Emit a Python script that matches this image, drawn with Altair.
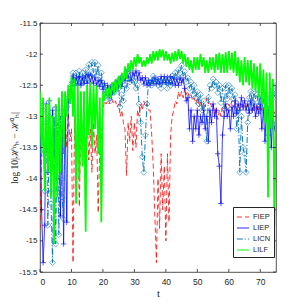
import altair as alt
import pandas as pd

series_names = ["FIEP", "LIEP", "LICN", "LILF"]
series_colors = ["#FF0000", "#0000FF", "#0072BD", "#00FF00"]
x_ticks = [0, 10, 20, 30, 40, 50, 60, 70]
y_ticks = [-11.5, -12, -12.5, -13, -13.5, -14, -14.5, -15, -15.5]
t_step = 0.5

FIEP = [
    -14.8, -13.5, -13.2, -14.0, -13.3, -13.8, -13.4, -14.2, -13.3, -14.0,
    -13.2, -13.9, -13.0, -13.8, -13.1, -13.6, -13.0, -13.5, -12.95, -13.4,
    -13.2, -15.35, -13.0, -14.0, -13.0, -14.45, -13.0, -13.8, -12.95, -13.6,
    -13.0, -13.7, -13.2, -13.9, -13.1, -13.6, -13.3, -14.55, -13.5, -13.4,
    -12.9, -12.75, -12.8, -12.75, -12.8, -12.7, -12.75, -12.8, -12.75, -12.85,
    -12.8, -13.0, -12.9, -13.1, -13.2, -13.95, -13.1, -13.4, -13.0, -13.55,
    -13.1, -13.5, -12.9, -13.0, -12.8, -12.9, -12.75, -12.85, -12.8, -12.9,
    -12.9, -13.3, -13.8, -14.6, -15.35, -14.0, -14.8, -13.6, -14.5, -13.8,
    -15.0, -13.6, -14.7, -13.3, -13.0, -12.9, -12.75, -12.8, -12.6, -12.7,
    -12.6, -12.7, -12.55, -12.65, -12.6, -12.7, -12.65, -12.75, -12.7, -12.8,
    -12.7, -12.85, -12.75, -12.9, -12.8, -12.85, -12.7, -12.8, -12.75, -12.85,
    -12.8, -12.95, -12.85, -13.05, -12.9, -13.0, -12.85, -12.95, -12.8, -12.9,
    -12.8, -12.85, -12.75, -12.85, -12.8, -12.9, -12.8, -12.85, -12.8, -12.9,
    -12.8, -12.85, -12.8, -12.9, -12.85, -12.95, -12.85, -12.9, -12.8, -12.9,
    -12.85, -12.9, -12.85, -12.95, -12.9, -13.0, -12.9, -13.0, -12.85, -12.95,
    -12.9,
]

LIEP = [
    -12.8, -14.5, -15.35, -14.75, -12.8, -13.9, -12.75, -14.2, -12.9, -13.6,
    -12.85, -14.0, -12.9, -14.6, -13.0, -15.05, -12.9, -14.7, -12.75, -12.7,
    -12.45, -12.35, -12.5, -12.38, -12.48, -12.36, -12.5, -12.38, -12.47, -12.35,
    -12.47, -12.33, -12.45, -12.35, -12.47, -12.37, -12.5, -12.42, -12.52, -12.42,
    -12.57, -12.47, -12.62, -12.5, -12.66, -12.52, -12.62, -12.48, -12.57, -12.43,
    -12.52, -12.38, -12.52, -12.4, -12.43, -12.28, -12.38, -12.27, -12.42, -12.3,
    -12.35, -12.27, -12.4, -12.3, -12.42, -12.38, -12.48, -12.38, -12.5, -12.42,
    -12.5, -12.42, -12.47, -12.38, -12.48, -12.4, -12.47, -12.36, -12.46, -12.36,
    -12.46, -12.37, -12.46, -12.36, -12.48, -12.38, -12.5, -12.4, -12.5, -12.38,
    -12.46, -12.4, -12.55, -12.75, -12.7, -13.2, -12.9, -13.4, -13.0, -13.2,
    -12.9, -13.3, -13.0, -13.1, -12.9, -13.2, -13.0, -13.4, -12.9, -13.1,
    -12.8, -13.0, -12.9, -13.6, -13.8, -14.4, -13.3, -13.0, -12.8, -13.0,
    -12.9, -13.2, -12.85, -13.0, -12.75, -12.95, -12.8, -12.9, -12.7, -12.85,
    -12.75, -12.9, -12.8, -12.95, -12.75, -12.9, -12.8, -13.0, -12.85, -12.95,
    -12.8, -13.2, -12.9, -13.4, -12.85, -13.3, -12.9, -13.5, -12.95, -13.2,
    -13.1,
]

LICN = [
    -12.85, -13.6, -12.9, -14.2, -13.1, -14.75, -13.0, -14.4, -15.35, -13.0,
    -15.05, -13.1, -14.9, -13.0, -14.3, -14.65, -12.9, -12.85, -12.7, -12.6,
    -12.5, -12.3, -12.48, -12.3, -12.45, -12.27, -12.47, -12.3, -12.45, -12.25,
    -12.4, -12.17, -12.35, -12.13, -12.3, -12.13, -12.35, -12.18, -12.45, -12.3,
    -12.5, -12.55, -12.62, -12.68, -12.7, -12.75, -12.6, -12.62, -12.55, -12.5,
    -12.55, -12.85, -12.65, -12.75, -12.5, -12.55, -12.4, -12.45, -12.38, -12.42,
    -12.45, -12.55, -12.5, -12.8, -13.1, -13.65, -13.9, -13.3, -12.8, -12.45,
    -12.45, -12.5, -12.35, -12.45, -12.4, -12.5, -12.45, -12.55, -12.4, -12.45,
    -12.45, -12.55, -12.4, -12.5, -12.35, -12.42, -12.3, -12.38, -12.25, -12.3,
    -12.18, -12.35, -12.28, -12.45, -12.38, -12.55, -12.45, -12.65, -12.5, -12.7,
    -12.6, -12.8, -12.65, -12.9, -12.75, -13.1, -13.4, -12.7, -12.5, -12.55,
    -12.4, -12.5, -12.45, -12.62, -12.5, -12.78, -12.55, -12.88, -12.5, -12.72,
    -12.5, -12.65, -12.55, -12.72, -12.65, -13.2, -12.9, -13.9, -13.0, -13.5,
    -13.6, -13.9, -13.1, -12.7, -12.6, -12.78, -12.6, -12.72, -12.65, -12.82,
    -12.65, -12.88, -12.72, -12.95, -12.72, -13.05, -12.65, -12.88, -12.58, -12.68,
    -12.5,
]

LILF = [
    -12.6, -13.6, -12.7, -14.2, -12.8, -13.9, -12.7, -14.3, -13.0, -15.05,
    -12.8, -14.3, -12.7, -13.9, -12.6, -13.5, -12.6, -13.0, -12.5, -12.8,
    -12.35, -13.0, -12.4, -14.4, -12.5, -14.0, -12.6, -13.8, -12.6, -14.85,
    -12.5, -13.3, -12.45, -13.5, -12.5, -13.2, -12.5, -13.6, -12.7, -14.7,
    -12.6, -12.75, -12.55, -12.7, -12.5, -12.7, -12.45, -12.65, -12.4, -12.6,
    -12.35, -12.55, -12.3, -12.45, -12.2, -12.4, -12.15, -12.3, -12.1, -12.25,
    -12.05, -12.2, -12.0, -12.15, -12.05, -12.2, -12.1, -12.2, -12.05, -12.15,
    -12.0, -12.15, -11.95, -12.1, -11.95, -12.1, -11.92, -12.05, -11.93, -12.1,
    -11.95, -12.1, -12.0, -12.15, -11.98, -12.12, -11.95, -12.1, -11.92, -12.08,
    -11.95, -12.15, -12.0, -12.2, -12.05, -12.25, -12.1, -12.3, -12.05, -12.25,
    -12.05, -12.25, -12.0, -12.2, -12.05, -12.3, -12.1, -12.3, -12.05, -12.25,
    -12.05, -12.3, -12.0, -12.25, -11.98, -12.3, -12.0, -12.3, -11.97, -12.3,
    -11.95, -12.25, -11.98, -12.3, -11.95, -12.35, -12.05, -12.45, -12.1, -12.5,
    -12.05, -12.45, -12.1, -12.5, -12.1, -12.55, -12.15, -12.6, -12.2, -12.7,
    -12.15, -12.8, -12.25, -13.1, -12.3, -14.3, -12.3, -13.2, -12.4, -14.75,
    -12.5,
]

all_values = {"FIEP": FIEP, "LIEP": LIEP, "LICN": LICN, "LILF": LILF}
rows = []
for order, name in enumerate(series_names):
    for i, v in enumerate(all_values[name]):
        rows.append({"t": i * t_step, "v": v, "series": name, "ord": order})
df = pd.DataFrame(rows)

W, H = 236, 249
xs = alt.Scale(domain=[0, 75], nice=False)
ys = alt.Scale(domain=[-15.5, -11.5], nice=False)
color_scale = alt.Scale(domain=series_names, range=series_colors)
dash_scale = alt.Scale(domain=series_names, range=[[5, 3], [1, 0], [6, 2, 1, 2], [1, 0]])
width_scale = alt.Scale(domain=series_names, range=[0.8, 1.0, 1.0, 1.6])

x_axis = alt.Axis(values=x_ticks, title="t", grid=False, ticks=False, domain=False,
                  labelFontSize=8.5, labelPadding=5, titleFontSize=11,
                  titleFontWeight="normal", titlePadding=2, labelColor="#262626",
                  titleColor="#262626", labelFont="Liberation Sans",
                  titleFont="Liberation Serif", labelOverlap=False)
y_axis = alt.Axis(values=y_ticks, title="log 10|ℋⁿₕ − ℋ⁰ₕ|", grid=False, ticks=False,
                  domain=False, labelFontSize=8, labelPadding=3,
                  labelExpr="toString(datum.value)", titleFontSize=9.5,
                  titleFontWeight="normal", titleX=-21, titleY=H / 2,
                  labelColor="#262626", titleColor="#262626",
                  labelFont="Liberation Sans", titleFont="Liberation Serif",
                  labelOverlap=False)

def xq(field):
    return alt.X(field, scale=xs, axis=x_axis)

def yq(field):
    return alt.Y(field, scale=ys, axis=y_axis)

legend_common = dict(title=None, orient="none", legendX=193, legendY=184,
                     strokeColor="#262626", fillColor="white", padding=3,
                     symbolType="stroke", symbolSize=150, symbolStrokeWidth=1.2,
                     labelFontSize=7.5, rowPadding=0, labelOffset=3,
                     labelFont="Liberation Sans", labelColor="#262626")

lines = alt.Chart(df).mark_line(clip=True).encode(
    x=xq("t:Q"),
    y=yq("v:Q"),
    color=alt.Color("series:N", scale=color_scale, sort=series_names,
                    legend=alt.Legend(**legend_common)),
    strokeDash=alt.StrokeDash("series:N", scale=dash_scale, sort=series_names,
                              legend=alt.Legend(**legend_common)),
    strokeWidth=alt.StrokeWidth("series:N", scale=width_scale, legend=None),
    order="ord:Q",
    detail="series:N",
)

plus_pts = alt.Chart(df[df.series == "LIEP"]).mark_point(
    shape="M-1,0L1,0M0,-1L0,1", filled=False, size=30, strokeWidth=0.9, color="#0000FF", clip=True
).encode(x=xq("t:Q"), y=yq("v:Q"))

dia_pts = alt.Chart(df[df.series == "LICN"]).mark_point(
    shape="diamond", filled=False, size=34, strokeWidth=0.8, color="#0072BD", clip=True
).encode(x=xq("t:Q"), y=yq("v:Q"))

lilf_line = alt.Chart(df[df.series == "LILF"]).mark_line(
    strokeWidth=1.6, color="#00FF00", clip=True
).encode(x=xq("t:Q"), y=yq("v:Q"))

xt = pd.DataFrame({"t": x_ticks})
yt = pd.DataFrame({"v": y_ticks})
tick_style = dict(color="#262626", strokeWidth=0.8)
xb = alt.Chart(xt).mark_rule(**tick_style).encode(x=xq("t:Q"), y=alt.value(H), y2=alt.value(H - 3))
xtop = alt.Chart(xt).mark_rule(**tick_style).encode(x=xq("t:Q"), y=alt.value(0), y2=alt.value(3))
yl = alt.Chart(yt).mark_rule(**tick_style).encode(y=yq("v:Q"), x=alt.value(0), x2=alt.value(3))
yr = alt.Chart(yt).mark_rule(**tick_style).encode(y=yq("v:Q"), x=alt.value(W), x2=alt.value(W - 3))

chart = alt.layer(lines, plus_pts, dia_pts, lilf_line, xb, xtop, yl, yr).properties(
    width=W, height=H,
    autosize=alt.AutoSizeParams(type="none"),
    padding={"left": 32, "top": 15, "right": 10, "bottom": 30},
    background="white",
).configure_view(stroke="#262626", strokeWidth=0.8).configure_axis(labelOverlap=False)

chart.save("out.html", embed_options={"renderer": "svg", "actions": False})
